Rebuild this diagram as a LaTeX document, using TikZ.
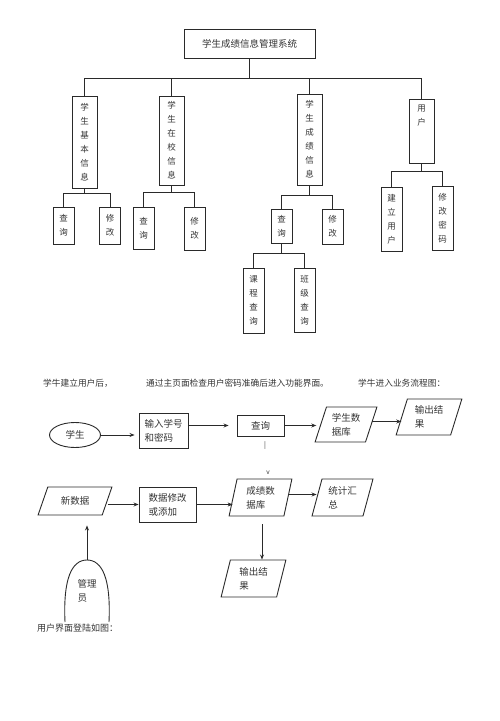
\documentclass[tikz,border=0pt]{standalone}
\usepackage{fontspec}
\setmainfont{Noto Sans CJK SC}
\usetikzlibrary{shapes.geometric,arrows.meta}
\definecolor{ln}{HTML}{2A2A2A}
\definecolor{tx}{HTML}{333333}
\begin{document}
\begin{tikzpicture}[x=1pt,y=-1pt,
  every node/.style={text=tx},
  line/.style={draw=ln,line width=0.9pt},
  arr/.style={line,-{Stealth[length=5pt,width=4pt]}},
  vbox/.style={draw=ln,line width=0.9pt,inner sep=0pt,align=center,
    font=\fontsize{8.5}{14}\selectfont},
  fbox/.style={draw=ln,line width=0.9pt,inner sep=0pt,align=left,
    font=\fontsize{9.5}{14}\selectfont},
  para/.style 2 args={trapezium,trapezium left angle=#1,trapezium right angle=#2,
    trapezium stretches=true,draw=ln,line width=0.9pt,inner sep=0pt,align=left,
    font=\fontsize{9.5}{14}\selectfont},
  hdr/.style={anchor=west,inner sep=0pt,font=\fontsize{8.7}{11}\selectfont}]
\useasboundingbox (0,0) rectangle (500,721);

% ---------- tree ----------
\node[vbox,minimum width=131,minimum height=29,font=\fontsize{9.5}{12}\selectfont] (top) at (249.5,43.5) {学生成绩信息管理系统};

\node[vbox,minimum width=25,minimum height=92] (c1) at (84.5,142) {学\\生\\基\\本\\信\\息};
\node[vbox,minimum width=25,minimum height=89] (c2) at (171.5,140.5) {学\\生\\在\\校\\信\\息};
\node[vbox,minimum width=25,minimum height=91] (c3) at (309.5,139.5) {学\\生\\成\\绩\\信\\息};
\node[vbox,minimum width=25,minimum height=64] (c4) at (421.5,131) {};
\node[vbox,draw=none,anchor=north] (c4t) at (421.5,104) {用\\户};

\node[vbox,minimum width=21,minimum height=37] (c1q) at (63.5,225.5) {查\\询};
\node[vbox,minimum width=21,minimum height=37] (c1m) at (110,225.5) {修\\改};
\node[vbox,minimum width=21,minimum height=42] (c2q) at (143.5,228) {查\\询};
\node[vbox,minimum width=21,minimum height=43] (c2m) at (194.5,228.5) {修\\改};
\node[vbox,minimum width=21,minimum height=34] (c3q) at (281.5,226) {查\\询};
\node[vbox,minimum width=21,minimum height=35] (c3m) at (332.5,226.5) {修\\改};
\node[vbox,minimum width=21,minimum height=65] (kc) at (253.5,300.5) {课\\程\\查\\询};
\node[vbox,minimum width=21,minimum height=64] (bj) at (304.5,300) {班\\级\\查\\询};
\node[vbox,minimum width=21,minimum height=64] (c4a) at (391.5,219) {建\\立\\用\\户};
\node[vbox,minimum width=21,minimum height=64] (c4b) at (442.5,218) {修\\改\\密\\码};

\coordinate (h0) at (0,78);
\coordinate (h1) at (0,193);
\coordinate (h2) at (0,192);
\coordinate (h3) at (0,195);
\coordinate (h3q) at (0,253);
\coordinate (h4) at (0,171);

\draw[line] (top.south) -- (top.south |- h0);
\draw[line] (c1.north) |- (c4.north |- h0) -- (c4.north);
\draw[line] (c2.north) -- (c2.north |- h0);
\draw[line] (c3.north) -- (c3.north |- h0);

\draw[line] (c1.south) -- (c1.south |- h1);
\draw[line] (c1q.north) |- (c1m.north |- h1) -- (c1m.north);
\draw[line] (c2.south) -- (c2.south |- h2);
\draw[line] (c2q.north) |- (c2m.north |- h2) -- (c2m.north);
\draw[line] (c3.south) -- (c3.south |- h3);
\draw[line] (c3q.north) |- (c3m.north |- h3) -- (c3m.north);
\draw[line] (c3q.south) -- (c3q.south |- h3q);
\draw[line] (kc.north) |- (bj.north |- h3q) -- (bj.north);
\draw[line] (c4.south) -- (c4.south |- h4);
\draw[line] (c4a.north) |- (c4b.north |- h4) -- (c4b.north);

% ---------- header texts ----------
\node[hdr] (t1) at (43,383) {学牛建立用户后，};
\node[hdr] (t2) at (146,383) {通过主页面检查用户密码准确后进入功能界面。};
\node[hdr] (t3) at (358,383) {学牛进入业务流程图：};

% ---------- flow row 1 ----------
\node[ellipse,draw=ln,line width=0.9pt,minimum width=51,minimum height=25,inner sep=0pt,
  font=\fontsize{9.5}{12}\selectfont] (stu) at (75,435) {学生};
\node[fbox,minimum width=49,minimum height=35] (inp) at (163.5,430.5) {输入学号\\和密码};
\node[fbox,minimum width=47,minimum height=21,align=center] (cx) at (260.5,425.5) {查询};
\node[para={70}{110},minimum width=62,minimum height=35] (sdb) at (346,424.5) {学生数\\据库};
\node[para={72}{108},minimum width=66,minimum height=36] (out1) at (429,417) {输出结\\果};

\draw[arr,shorten >=4pt] (stu.east) -- (inp.west |- stu.east);
\draw[arr,shorten >=8pt] (inp.east |- cx.west) -- (cx.west);
\draw[arr,shorten >=4pt] (cx.east) -- (sdb.west |- cx.east);
\draw[arr] ([yshift=3pt]sdb.east) -- ([yshift=3pt]sdb.east -| out1.west);

\node[inner sep=0pt,font=\fontsize{7}{8}\selectfont] (bar) at (265,446) {|};
\node[inner sep=0pt,font=\fontsize{6.5}{8}\selectfont] (vv) at (268,473) {v};

% ---------- flow row 2 ----------
\node[para={60}{120},minimum width=74,minimum height=28,align=center] (nd) at (75,501) {新数据};
\node[fbox,minimum width=57,minimum height=35] (xg) at (167.5,504.5) {数据修改\\或添加};
\node[para={78}{102},minimum width=63,minimum height=37] (cdb) at (260.5,497.5) {成绩数\\据库};
\node[para={73}{107},minimum width=61,minimum height=37] (tj) at (342.5,497.5) {统计汇\\总};
\node[para={76}{104},minimum width=65,minimum height=37] (out2) at (253.5,578.5) {输出结\\果};

\draw[arr] (nd.east |- xg.west) -- (xg.west);
\draw[arr] (xg.east) -- (xg.east -| cdb.west);
\draw[arr] ([yshift=3pt]cdb.east) -- ([yshift=3pt]tj.west);
\draw[arr,shorten <=8pt] ([xshift=1.5pt]cdb.south) -- ([xshift=1.5pt]cdb.south |- out2.north);

% ---------- administrator arch ----------
\coordinate (admtop) at (87,560);
\draw[line] (65,622) .. controls (63,578) and (72,560) .. (admtop)
  .. controls (102,560) and (111,578) .. (109,622);
\node[inner sep=0pt,align=left,font=\fontsize{9.5}{13.5}\selectfont] (adm) at (87,591) {管理\\员};
\draw[arr,shorten >=10pt] (admtop) -- (admtop |- nd.south);

\node[hdr,font=\fontsize{9}{11}\selectfont] (t4) at (37,628) {用户界面登陆如图：};
\end{tikzpicture}
\end{document}
